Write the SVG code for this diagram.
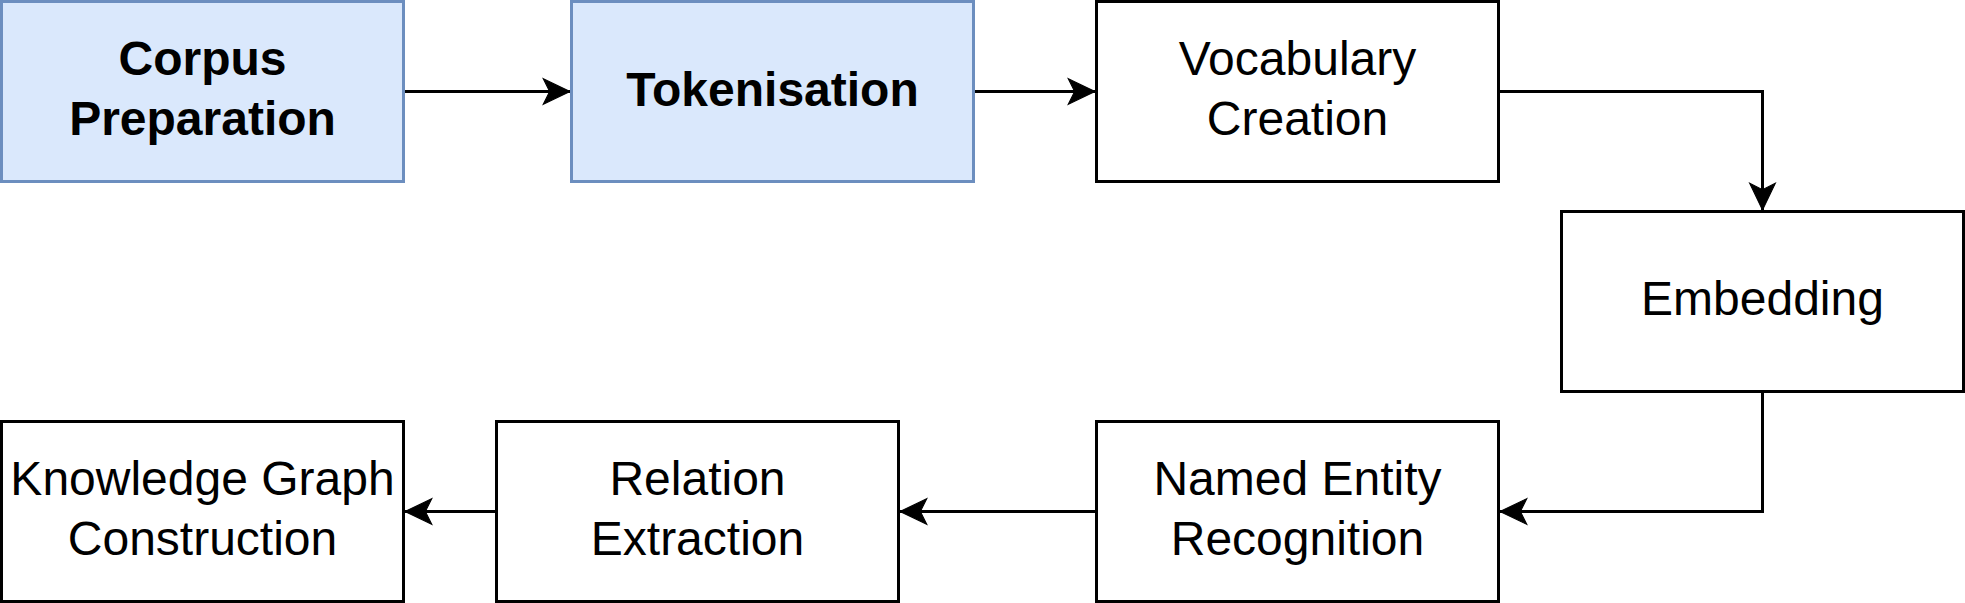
<svg xmlns="http://www.w3.org/2000/svg" width="1965" height="603" viewBox="0 0 1965 603">
  <style>
    .box { fill: #ffffff; stroke: #000000; stroke-width: 3; }
    .blue { fill: #dae8fc; stroke: #6c8ebf; stroke-width: 3; }
    .lbl { font-family: "Liberation Sans", Arial, Helvetica, sans-serif; font-size: 48px; fill: #000000; text-anchor: middle; }
    .bold { font-weight: bold; }
    .edge { fill: none; stroke: #000000; stroke-width: 3; }
  </style>
  <defs>
    <marker id="arrow" markerUnits="userSpaceOnUse" markerWidth="30" markerHeight="30" viewBox="-26 -13 28 26" refX="0" refY="0" orient="auto">
      <path d="M0,0 L-25,-12 L-19,0 L-25,12 Z" fill="#000000" stroke="#000000" stroke-width="1"/>
    </marker>
  </defs>
  <rect width="1965" height="603" fill="#ffffff"/>
  <g id="connectors">
    <path class="edge" d="M403.5,91.5 L570,91.5" marker-end="url(#arrow)"/>
    <path class="edge" d="M973.5,91.5 L1095,91.5" marker-end="url(#arrow)"/>
    <path class="edge" d="M1498.5,91.5 L1762.5,91.5 L1762.5,210" marker-end="url(#arrow)"/>
    <path class="edge" d="M1762.5,391.5 L1762.5,511.5 L1500,511.5" marker-end="url(#arrow)"/>
    <path class="edge" d="M1096.5,511.5 L900,511.5" marker-end="url(#arrow)"/>
    <path class="edge" d="M496.5,511.5 L405,511.5" marker-end="url(#arrow)"/>
  </g>
  <g id="corpus-preparation">
    <rect class="blue" x="1.5" y="1.5" width="402" height="180"/>
    <text class="lbl bold" x="202.5" y="75">Corpus</text>
    <text class="lbl bold" x="202.5" y="135">Preparation</text>
  </g>
  <g id="tokenisation">
    <rect class="blue" x="571.5" y="1.5" width="402" height="180"/>
    <text class="lbl bold" x="772.5" y="106">Tokenisation</text>
  </g>
  <g id="vocabulary-creation">
    <rect class="box" x="1096.5" y="1.5" width="402" height="180"/>
    <text class="lbl" x="1297.5" y="75">Vocabulary</text>
    <text class="lbl" x="1297.5" y="135">Creation</text>
  </g>
  <g id="embedding">
    <rect class="box" x="1561.5" y="211.5" width="402" height="180"/>
    <text class="lbl" x="1762.5" y="315">Embedding</text>
  </g>
  <g id="named-entity-recognition">
    <rect class="box" x="1096.5" y="421.5" width="402" height="180"/>
    <text class="lbl" x="1297.5" y="495">Named Entity</text>
    <text class="lbl" x="1297.5" y="555">Recognition</text>
  </g>
  <g id="relation-extraction">
    <rect class="box" x="496.5" y="421.5" width="402" height="180"/>
    <text class="lbl" x="697.5" y="495">Relation</text>
    <text class="lbl" x="697.5" y="555">Extraction</text>
  </g>
  <g id="knowledge-graph-construction">
    <rect class="box" x="1.5" y="421.5" width="402" height="180"/>
    <text class="lbl" x="202.5" y="495">Knowledge Graph</text>
    <text class="lbl" x="202.5" y="555">Construction</text>
  </g>
</svg>
